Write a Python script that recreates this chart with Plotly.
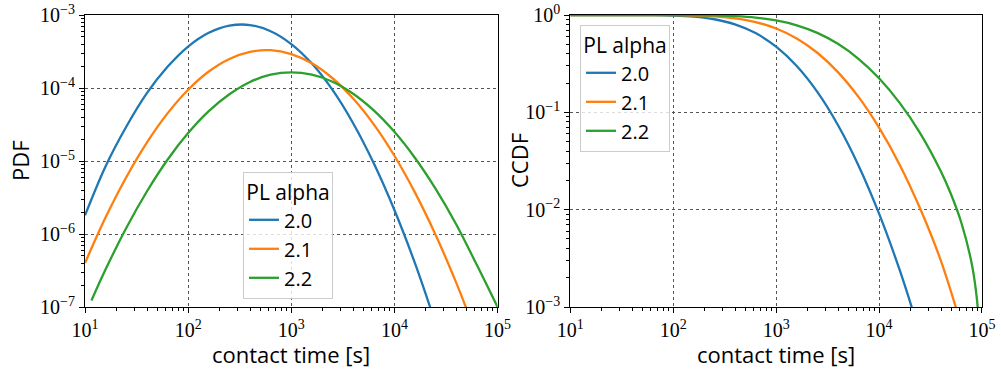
import plotly.graph_objects as go

# ---------------- data ----------------
alpha_labels = ["2.0", "2.1", "2.2"]
colors = ["#1f77b4", "#ff7f0e", "#2ca02c"]

# PDF panel
pdf_x_blue = [10, 15.85, 25.12, 39.81, 63.10, 100, 158.5, 251.2, 398.1, 631.0, 1000,
              1585, 2512, 3981, 6310, 10000, 15850, 25120]
pdf_y_blue = [1.8e-6, 8.5e-6, 2.95e-5, 8.5e-5, 1.95e-4, 3.7e-4, 5.7e-4, 7.14e-4, 7.29e-4,
              6.0e-4, 4.0e-4, 2.16e-4, 9.4e-5, 3.29e-5, 9.3e-6, 2.13e-6, 3.95e-7, 5.9e-8]
pdf_x_orange = [10, 15.85, 25.12, 39.81, 63.10, 100, 158.5, 251.2, 398.1, 631.0, 1000,
                1585, 2512, 3981, 6310, 10000, 15850, 25120, 39810, 63100]
pdf_y_orange = [4.0e-7, 1.69e-6, 6.0e-6, 1.79e-5, 4.49e-5, 9.46e-5, 1.68e-4, 2.50e-4,
                3.13e-4, 3.30e-4, 2.92e-4, 2.18e-4, 1.36e-4, 7.16e-5, 3.17e-5, 1.18e-5,
                3.69e-6, 9.7e-7, 2.14e-7, 4.0e-8]
pdf_x_green = [11.56, 15.85, 25.12, 39.81, 63.10, 100, 158.5, 251.2, 398.1, 631.0, 1000,
               1585, 2512, 3981, 6310, 10000, 15850, 25120, 39810, 63100, 100000]
pdf_y_green = [1.23e-7, 3.28e-7, 1.21e-6, 3.82e-6, 1.04e-5, 2.41e-5, 4.81e-5, 8.2e-5,
               1.21e-4, 1.52e-4, 1.64e-4, 1.52e-4, 1.22e-4, 8.36e-5, 4.93e-5, 2.51e-5,
               1.10e-5, 4.15e-6, 1.35e-6, 3.75e-7, 1.0e-7]

# CCDF panel
ccdf_x_blue = [10, 31.62, 63.10, 100, 158.5, 251.2, 398.1, 631.0, 1000, 1585, 2512, 3981,
               6310, 10000, 15850, 25120]
ccdf_y_blue = [1.0, 0.9996, 0.9964, 0.987, 0.9613, 0.9044, 0.8021, 0.6517, 0.4725, 0.2988,
               0.1621, 0.0742, 0.0285, 0.0091, 0.0024, 0.00052]
ccdf_x_orange = [10, 31.62, 100, 158.5, 251.2, 398.1, 631.0, 1000, 1585, 2512, 3981, 6310,
                 10000, 15850, 25120, 39810, 63100]
ccdf_y_orange = [1.0, 0.9999, 0.9964, 0.9884, 0.9681, 0.9247, 0.8464, 0.7271, 0.5744,
                 0.4094, 0.2591, 0.1440, 0.0696, 0.0290, 0.0102, 0.0030, 0.00064]
ccdf_x_green = [10, 31.62, 100, 158.5, 251.2, 398.1, 631.0, 1000, 1585, 2512, 3981, 6310,
                10000, 15850, 25120, 39810, 50120, 63100, 79430, 89130, 95500]
ccdf_y_green = [1.0, 1.0, 0.999, 0.9967, 0.990, 0.9738, 0.9402, 0.8791, 0.7839, 0.6556,
                0.5058, 0.3551, 0.2237, 0.1249, 0.0609, 0.0248, 0.0143, 0.0073, 0.0028,
                0.00122, 0.00045]

x_tick_vals = [10, 100, 1000, 10000, 100000]
x_tick_text = ["10<sup>1</sup>", "10<sup>2</sup>", "10<sup>3</sup>", "10<sup>4</sup>", "10<sup>5</sup>"]
pdf_tick_vals = [1e-7, 1e-6, 1e-5, 1e-4, 1e-3]
pdf_tick_text = ["10<sup>−7</sup>", "10<sup>−6</sup>", "10<sup>−5</sup>", "10<sup>−4</sup>", "10<sup>−3</sup>"]
ccdf_tick_vals = [1e-3, 1e-2, 1e-1, 1]
ccdf_tick_text = ["10<sup>−3</sup>", "10<sup>−2</sup>", "10<sup>−1</sup>", "10<sup>0</sup>"]

x_title = "contact time [s]"
pdf_title = "PDF"
ccdf_title = "CCDF"
legend_title = "PL alpha"

# ---------------- figure ----------------
fig = go.Figure()
pdf_series = [(pdf_x_blue, pdf_y_blue), (pdf_x_orange, pdf_y_orange), (pdf_x_green, pdf_y_green)]
ccdf_series = [(ccdf_x_blue, ccdf_y_blue), (ccdf_x_orange, ccdf_y_orange), (ccdf_x_green, ccdf_y_green)]

for (xs, ys), lab, c in zip(pdf_series, alpha_labels, colors):
    fig.add_trace(go.Scatter(x=xs, y=ys, mode="lines", name=lab,
                             line=dict(color=c, width=2.3, shape="spline", smoothing=1),
                             xaxis="x", yaxis="y", legend="legend"))
for (xs, ys), lab, c in zip(ccdf_series, alpha_labels, colors):
    fig.add_trace(go.Scatter(x=xs, y=ys, mode="lines", name=lab,
                             line=dict(color=c, width=2.3, shape="spline", smoothing=1),
                             xaxis="x2", yaxis="y2", legend="legend2"))

def minor_vals(lo, hi):
    out = []
    for e in range(lo, hi):
        for m in range(2, 10):
            out.append(m * 10 ** e)
    return out

tick_font = dict(family="Liberation Serif", size=20, color="black")
title_font = dict(family="Open Sans", size=22, color="black")

common_axis = dict(type="log", showline=True, linecolor="black", linewidth=1.2, mirror=True,
                   ticks="outside", ticklen=5, tickwidth=1.2, tickcolor="black",
                   showgrid=True, gridcolor="#555", griddash="dot", gridwidth=0.8,
                   zeroline=False, tickfont=tick_font, automargin=False)

def minor(lo, hi):
    return dict(tickvals=minor_vals(lo, hi), ticks="outside", ticklen=3,
                tickcolor="black", showgrid=False)

legend_common = dict(xanchor="left", yanchor="top",
                     bgcolor="rgba(255,255,255,0.8)", bordercolor="#cccccc", borderwidth=1,
                     font=dict(family="Open Sans", size=20, color="black"),
                     title=dict(text=legend_title, side="top center",
                                font=dict(family="Open Sans", size=21, color="black")),
                     tracegroupgap=0)

PLOT_L, PLOT_T, PLOT_W, PLOT_H = 85, 15, 897, 292
LEFT_DOM = [0, 0.4599]
RIGHT_DOM = [0.541, 1]

def py(pixel_y):
    return 1 - (pixel_y - PLOT_T) / PLOT_H

def px(pixel_x):
    return (pixel_x - PLOT_L) / PLOT_W

fig.update_layout(
    width=1001, height=369,
    margin=dict(l=PLOT_L, r=19, t=PLOT_T, b=62),
    paper_bgcolor="white", plot_bgcolor="white",
    showlegend=True,
    xaxis=dict(common_axis, domain=LEFT_DOM, range=[1, 5],
               tickvals=x_tick_vals, ticktext=x_tick_text, minor=minor(1, 5), anchor="y"),
    yaxis=dict(common_axis, range=[-7, -3],
               tickvals=pdf_tick_vals, ticktext=pdf_tick_text, minor=minor(-7, -3), anchor="x"),
    xaxis2=dict(common_axis, domain=RIGHT_DOM, range=[1, 5],
                tickvals=x_tick_vals, ticktext=x_tick_text, minor=minor(1, 5), anchor="y2"),
    yaxis2=dict(common_axis, range=[-3, 0],
                tickvals=ccdf_tick_vals, ticktext=ccdf_tick_text, minor=minor(-3, 0), anchor="x2"),
    legend=dict(legend_common, x=px(243), y=py(172)),
    legend2=dict(legend_common, x=px(580), y=py(25)),
    annotations=[
        dict(text=x_title, xref="paper", yref="paper", x=sum(LEFT_DOM) / 2, y=py(354),
             showarrow=False, font=title_font, xanchor="center", yanchor="middle"),
        dict(text=x_title, xref="paper", yref="paper", x=sum(RIGHT_DOM) / 2, y=py(354),
             showarrow=False, font=title_font, xanchor="center", yanchor="middle"),
        dict(text=pdf_title, xref="paper", yref="paper", x=px(20), y=0.5,
             textangle=-90, showarrow=False, font=title_font, xanchor="center", yanchor="middle"),
        dict(text=ccdf_title, xref="paper", yref="paper", x=px(519), y=0.5,
             textangle=-90, showarrow=False, font=title_font, xanchor="center", yanchor="middle"),
    ],
)

fig.write_html("out.html")
